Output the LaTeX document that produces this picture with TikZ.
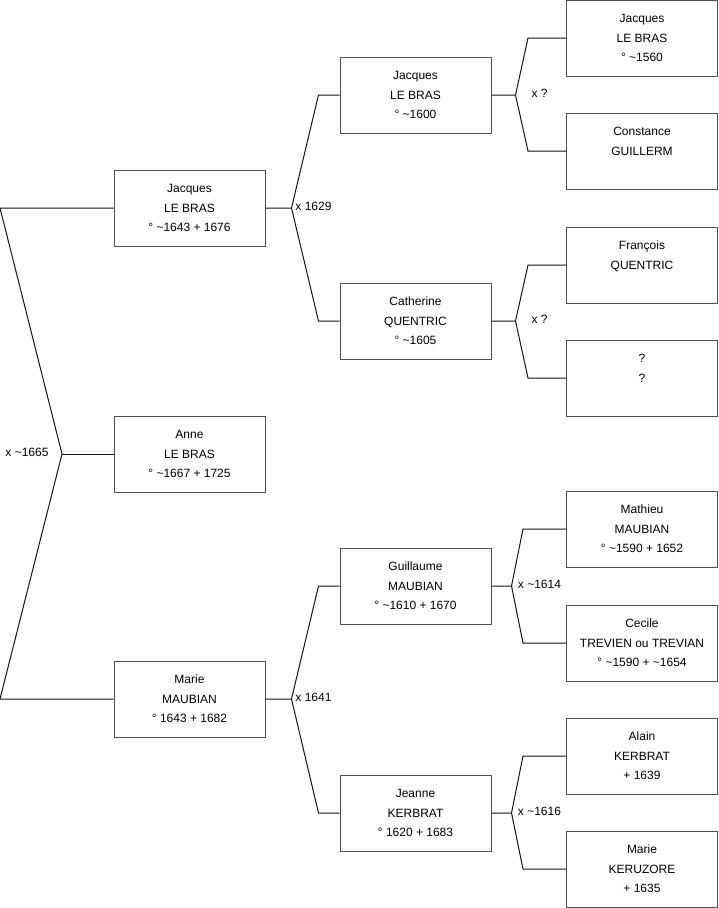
\documentclass[tikz,border=0pt]{standalone}
\usepackage{fontspec}
\setmainfont{Liberation Sans}
\usetikzlibrary{calc}
\newcommand\tld{\textasciitilde}
\definecolor{boxgray}{RGB}{80,80,80}
\definecolor{linegray}{RGB}{20,20,20}
% #1 parent, #2 child1, #3 child2, #4 junction offset, #5 corner offset, #6 label, #7 label x offset
\newcommand\famlink[7]{%
  \path (#1.east) ++(#4,0) coordinate (#1j);
  \path (#2.west) ++(-#5,0) coordinate (#2c);
  \path (#3.west) ++(-#5,0) coordinate (#3c);
  \draw[conn] (#1.east) -- (#1j) -- (#2c) -- (#2.west);
  \draw[conn] (#1j) -- (#3c) -- (#3.west);
  \path (#1j) ++(#7,2) node[union] (#1u) {#6};
}
\begin{document}
\begin{tikzpicture}[x=1pt,y=-1pt,
  person/.style={draw=boxgray, line width=1pt, minimum width=151pt, minimum height=76pt,
    inner sep=0pt, align=center, font=\fontsize{12}{19.5}\selectfont},
  conn/.style={draw=linegray, line width=1pt, line join=miter},
  union/.style={anchor=base, inner sep=0pt, font=\fontsize{12}{14}\selectfont}]
\useasboundingbox (0,0) rectangle (719,908);

% column 1
\node[person] (p1) at (189.5,208) {Jacques\\LE BRAS\\° \tld1643 + 1676};
\node[person] (anne) at (189.5,454) {Anne\\LE BRAS\\° \tld1667 + 1725};
\node[person] (m1) at (189.5,699) {Marie\\MAUBIAN\\° 1643 + 1682};

% column 2
\node[person] (p2) at (415.5,95) {Jacques\\LE BRAS\\° \tld1600};
\node[person] (m2) at (415.5,321) {Catherine\\QUENTRIC\\° \tld1605};
\node[person] (p3) at (415.5,586) {Guillaume\\MAUBIAN\\° \tld1610 + 1670};
\node[person] (m3) at (415.5,813) {Jeanne\\KERBRAT\\° 1620 + 1683};

% column 3
\node[person] (a1) at (642,38) {Jacques\\LE BRAS\\° \tld1560};
\node[person] (a2) at (642,151) {Constance\\GUILLERM\\\mbox{}};
\node[person] (a3) at (642,265) {François\\QUENTRIC\\\mbox{}};
\node[person] (a4) at (642,378) {?\\?\\\mbox{}};
\node[person] (a5) at (642,529) {Mathieu\\MAUBIAN\\° \tld1590 + 1652};
\node[person] (a6) at (642,643) {Cecile\\TREVIEN ou TREVIAN\\° \tld1590 + \tld1654};
\node[person] (a7) at (642,756) {Alain\\KERBRAT\\+ 1639};
\node[person] (a8) at (642,869) {Marie\\KERUZORE\\+ 1635};

% left bracket
\coordinate (L1) at (0,208);
\coordinate (V1) at (62,454);
\coordinate (L2) at (0,699);
\draw[conn] (p1.west) -- (L1) -- (V1) -- (L2) -- (m1.west);
\draw[conn] (V1) -- (anne.west);
\path (V1) ++(-35,2) node[union] (u0) {x \tld1665};

% other brackets
\famlink{p1}{p2}{m2}{26}{21}{x 1629}{22}
\famlink{m1}{p3}{m3}{26}{21}{x 1641}{22}
\famlink{p2}{a1}{a2}{24}{38}{x ?}{24}
\famlink{m2}{a3}{a4}{24}{38}{x ?}{24}
\famlink{p3}{a5}{a6}{20}{43}{x \tld1614}{28}
\famlink{m3}{a7}{a8}{20}{43}{x \tld1616}{28}
\end{tikzpicture}
\end{document}
